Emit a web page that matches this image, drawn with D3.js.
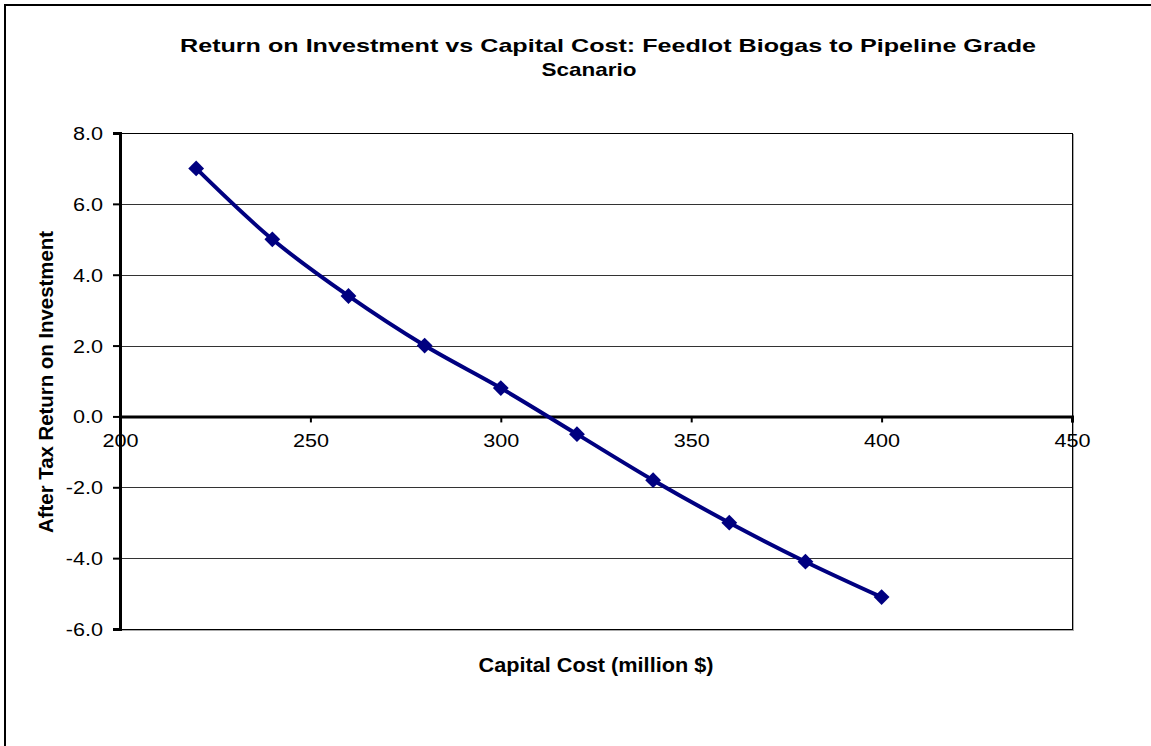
<html><head>
<meta charset="UTF-8">
<title>Return on Investment vs Capital Cost</title>
<script src="https://cdn.jsdelivr.net/npm/d3@7"></script>
<style>
  body { margin: 0; background: #fff; }
  text { font-family: Arial, "Liberation Sans", sans-serif; fill: #000; }
  .title { font-size: 19px; font-weight: bold; }
  .axis-title { font-size: 19.5px; font-weight: bold; }
</style>
</head>
<body>
<div id="chart"></div>
<script>
// capital cost (million $) vs after tax ROI
const capitalCost = [220, 240, 260, 280, 300, 320, 340, 360, 380, 400];
const roi = [7.0, 5.0, 3.4, 2.0, 0.8, -0.5, -1.8, -3.0, -4.1, -5.1];
const xTicks = [200, 250, 300, 350, 400, 450];
const yTicks = [-6, -4, -2, 0, 2, 4, 6, 8];

const W = 1151, H = 746;
const plot = {left: 120, right: 1072, top: 133, bottom: 629};

const svg = d3.select("#chart").append("svg")
    .attr("width", W)
    .attr("height", H);

// stretch text horizontally (the original is wider than the font)
function stretch(sel, f) {
  sel.each(function() {
    const w = this.getComputedTextLength();
    d3.select(this).attr("textLength", w * f).attr("lengthAdjust", "spacingAndGlyphs");
  });
}

// outer chart frame (cut off at right/bottom like the original)
svg.append("rect")
    .attr("x", 5).attr("y", 5)
    .attr("width", W + 20).attr("height", H + 20)
    .attr("fill", "none")
    .attr("stroke", "#000")
    .attr("stroke-width", 2);

const x = d3.scaleLinear().domain([200, 450]).range([plot.left, plot.right]);
const y = d3.scaleLinear().domain([-6, 8]).range([plot.bottom, plot.top]);

// plot area border (shadow + box)
svg.append("rect")
    .attr("x", plot.left + 1.5).attr("y", plot.top + 1.5)
    .attr("width", plot.right - plot.left).attr("height", plot.bottom - plot.top)
    .attr("fill", "none").attr("stroke", "#aaa").attr("stroke-width", 1);
svg.append("rect")
    .attr("x", plot.left + 0.5).attr("y", plot.top + 0.5)
    .attr("width", plot.right - plot.left).attr("height", plot.bottom - plot.top)
    .attr("fill", "#fff").attr("stroke", "#000").attr("stroke-width", 1);

// gridlines
svg.append("g")
  .selectAll("line")
  .data(yTicks.filter(d => d !== 0 && d !== -6 && d !== 8))
  .enter().append("line")
    .attr("x1", plot.left).attr("x2", plot.right)
    .attr("y1", d => Math.round(y(d)) + 0.5)
    .attr("y2", d => Math.round(y(d)) + 0.5)
    .attr("stroke", "#333").attr("stroke-width", 1);

// y axis
const yAxis = svg.append("g")
    .attr("transform", `translate(${plot.left},0)`)
    .call(d3.axisLeft(y).tickValues(yTicks).tickFormat(d => d.toFixed(1)).tickSize(7).tickPadding(10));
yAxis.attr("font-size", 18).attr("font-family", null);
yAxis.select(".domain").attr("stroke-width", 3);
yAxis.selectAll(".tick line").attr("stroke-width", 2);
yAxis.selectAll(".tick text").attr("dy", "0.36em").call(stretch, 1.2);

// x axis crossing at zero
const xAxis = svg.append("g")
    .attr("transform", `translate(0,${y(0)})`)
    .call(d3.axisBottom(x).tickValues(xTicks).tickSize(6).tickPadding(12));
xAxis.attr("font-size", 18).attr("font-family", null);
xAxis.select(".domain").attr("stroke-width", 3);
xAxis.selectAll(".tick line").attr("stroke-width", 2);
xAxis.selectAll(".tick text").call(stretch, 1.2);

// smoothed line
const line = d3.line()
    .x((d, i) => x(capitalCost[i]))
    .y(d => y(d))
    .curve(d3.curveCatmullRom.alpha(0.5));

svg.append("path")
    .datum(roi)
    .attr("d", line)
    .attr("fill", "none")
    .attr("stroke", "#000080")
    .attr("stroke-width", 4);

svg.append("g")
  .selectAll("path")
  .data(roi)
  .enter().append("path")
    .attr("d", d3.symbol().type(d3.symbolSquare).size(125))
    .attr("transform", (d, i) => `translate(${x(capitalCost[i])},${y(d)}) rotate(45)`)
    .attr("fill", "#000080");

// titles
svg.append("text").attr("class", "title")
    .attr("x", 608).attr("y", 52).attr("text-anchor", "middle")
    .attr("textLength", 856).attr("lengthAdjust", "spacingAndGlyphs")
    .text("Return on Investment vs Capital Cost: Feedlot Biogas to Pipeline Grade");
svg.append("text").attr("class", "title")
    .attr("x", 589).attr("y", 76).attr("text-anchor", "middle")
    .attr("textLength", 95).attr("lengthAdjust", "spacingAndGlyphs")
    .text("Scanario");

svg.append("text").attr("class", "axis-title")
    .attr("x", 596).attr("y", 672).attr("text-anchor", "middle")
    .attr("textLength", 235).attr("lengthAdjust", "spacingAndGlyphs")
    .text("Capital Cost (million $)");

svg.append("text").attr("class", "axis-title")
    .attr("transform", "translate(53,382) rotate(-90)")
    .attr("text-anchor", "middle")
    .attr("textLength", 302).attr("lengthAdjust", "spacingAndGlyphs")
    .text("After Tax Return on Investment");
</script>
</body></html>
